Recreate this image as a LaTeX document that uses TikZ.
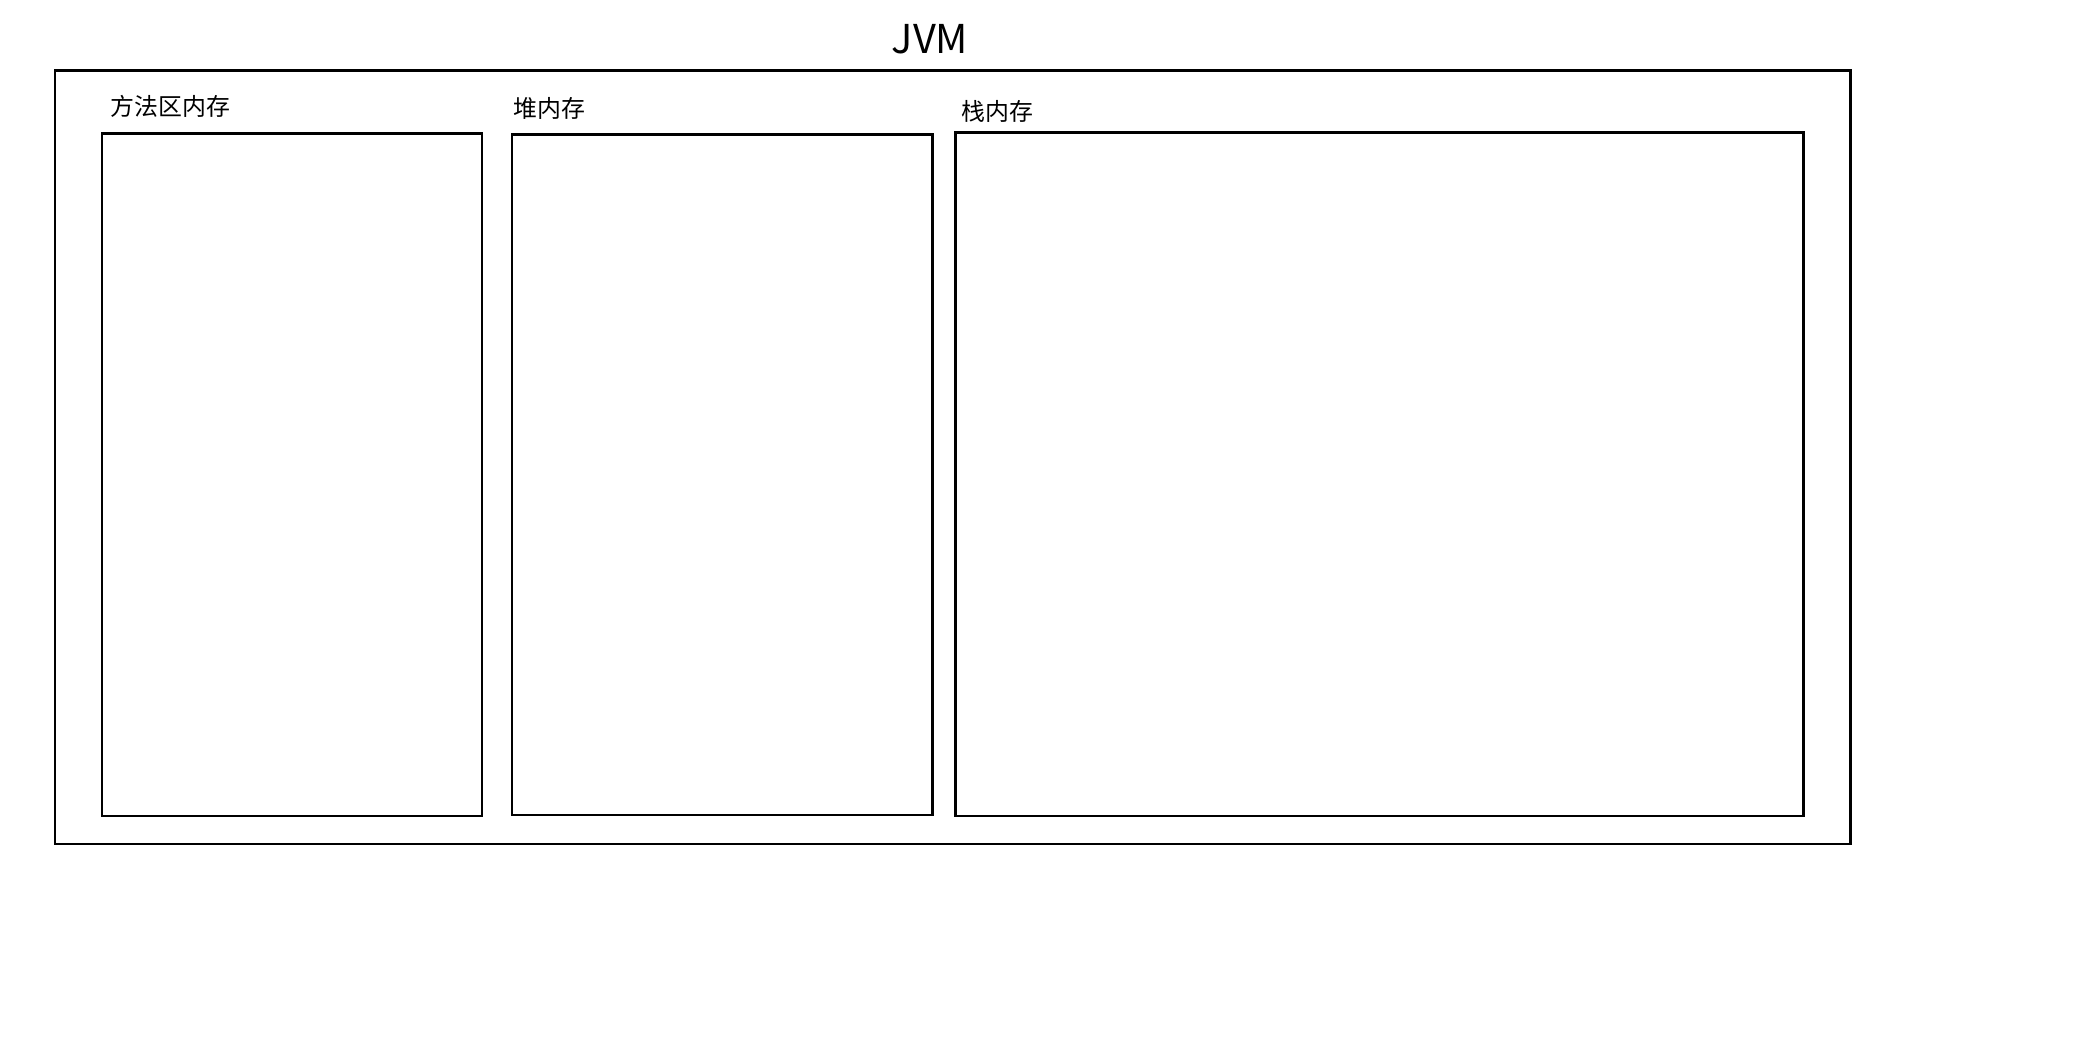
\documentclass[tikz,border=0pt]{standalone}
\usepackage{fontspec}
\setmainfont{Noto Sans CJK SC}
\usepackage{tikz}
\usetikzlibrary{positioning}

\tikzset{
    region/.style={draw=black, line width=0.85pt},
    regionlabel/.style={anchor=west, inner sep=0pt, font=\fontsize{6.8pt}{8pt}\selectfont},
}

\begin{document}
\begin{tikzpicture}[x=0.01cm, y=-0.01cm]
        \useasboundingbox (0,0) rectangle (2084,1046);

        % outer JVM frame
        \draw[region] (55,70.5) rectangle (1850,844);
        \node[inner sep=0pt, font=\fontsize{11.3pt}{13pt}\selectfont] (jvm) at (930,39) {JVM};

        % memory areas
        \draw[region] (102,134) rectangle (482,816);
        \node[regionlabel] (method) at (110,106) {方法区内存};

        \draw[region] (512,135) rectangle (932,815);
        \node[regionlabel] (heap) at (513,108) {堆内存};

        \draw[region] (955,133) rectangle (1803,816);
        \node[regionlabel] (stack) at (961,111.5) {栈内存};
    \end{tikzpicture}
\end{document}
